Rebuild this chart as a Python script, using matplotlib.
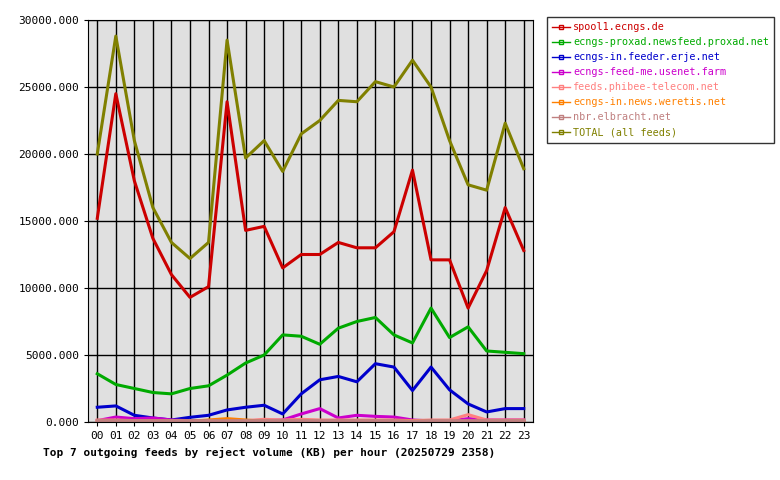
import matplotlib
matplotlib.use("Agg")
import matplotlib.pyplot as plt
from matplotlib.lines import Line2D

hours = ["%02d" % h for h in range(24)]
spool1 = [15200,24500,18000,13700,11000,9300,10100,23900,14300,14600,11500,12500,12500,13400,13000,13000,14200,18800,12100,12100,8500,11300,16000,12800]
proxad = [3600,2800,2500,2200,2100,2500,2700,3500,4400,5000,6500,6400,5800,7000,7500,7800,6500,5900,8500,6300,7100,5300,5200,5100]
erje = [1100,1200,500,300,150,350,500,900,1100,1250,600,2100,3150,3400,3000,4350,4100,2350,4100,2400,1350,750,1000,1000]
usenet = [100,370,250,300,150,100,100,150,100,100,150,600,1000,300,500,420,370,150,80,80,250,150,150,150]
phibee = [150,150,100,100,100,100,100,100,100,200,150,200,150,150,150,150,150,100,150,150,550,150,150,150]
weretis = [50,50,50,50,50,50,150,250,150,50,50,50,50,50,50,50,50,50,50,50,50,50,50,50]
elbracht = [100,100,100,100,100,100,100,100,100,100,100,100,100,100,100,100,100,50,100,100,100,100,100,100]
total = [20000,28800,21000,16000,13400,12200,13400,28500,19700,21000,18700,21500,22500,24000,23900,25400,25000,27000,25000,21000,17700,17300,22300,18900]

series = [
    ("spool1.ecngs.de", spool1, "#cc0000"),
    ("ecngs-proxad.newsfeed.proxad.net", proxad, "#00aa00"),
    ("ecngs-in.feeder.erje.net", erje, "#0000cc"),
    ("ecngs-feed-me.usenet.farm", usenet, "#cc00cc"),
    ("feeds.phibee-telecom.net", phibee, "#ff8080"),
    ("ecngs-in.news.weretis.net", weretis, "#ff8000"),
    ("nbr.elbracht.net", elbracht, "#c08080"),
    ("TOTAL (all feeds)", total, "#808000"),
]

plt.rcParams["font.family"] = "DejaVu Sans Mono"
fig = plt.figure(figsize=(7.8, 4.8), dpi=100)
ax = fig.add_axes([88/780, 1-422/480, (533-88)/780, (422-20)/480])
ax.set_facecolor("#e0e0e0")
x = list(range(24))
handles = []
for name, vals, c in series:
    ax.plot(x, vals, color=c, lw=2.2)
    handles.append(Line2D([], [], color=c, lw=1, marker="s", markersize=2.5,
                          markerfacecolor="none", markevery=[1], label=name))
ax.set_xlim(-0.5, 23.5)
ax.set_ylim(0, 30000)
ax.set_xticks(x)
ax.set_xticklabels(hours, fontsize=8)
ax.set_yticks(range(0, 30001, 5000))
ax.set_yticklabels(["%d.000" % v for v in range(0, 30001, 5000)], fontsize=8)
ax.grid(True, color="black", lw=1)
ax.set_axisbelow(True)
ax.tick_params(length=3)
leg = fig.legend(handles=handles, loc="upper left", bbox_to_anchor=(547/780, 1-17/480), fontsize=7.3,
                 frameon=True, fancybox=False, edgecolor="black", handlelength=1.8,
                 handletextpad=0.3, borderpad=0.5, borderaxespad=0, labelspacing=0.5)
leg.get_frame().set_linewidth(1)
for t, (_, _, c) in zip(leg.get_texts(), series):
    t.set_color(c)
fig.text(43/780, 1-452/480, "Top 7 outgoing feeds by reject volume (KB) per hour (20250729 2358)",
         fontsize=8, fontweight="bold", va="center")
fig.savefig("out.png")
